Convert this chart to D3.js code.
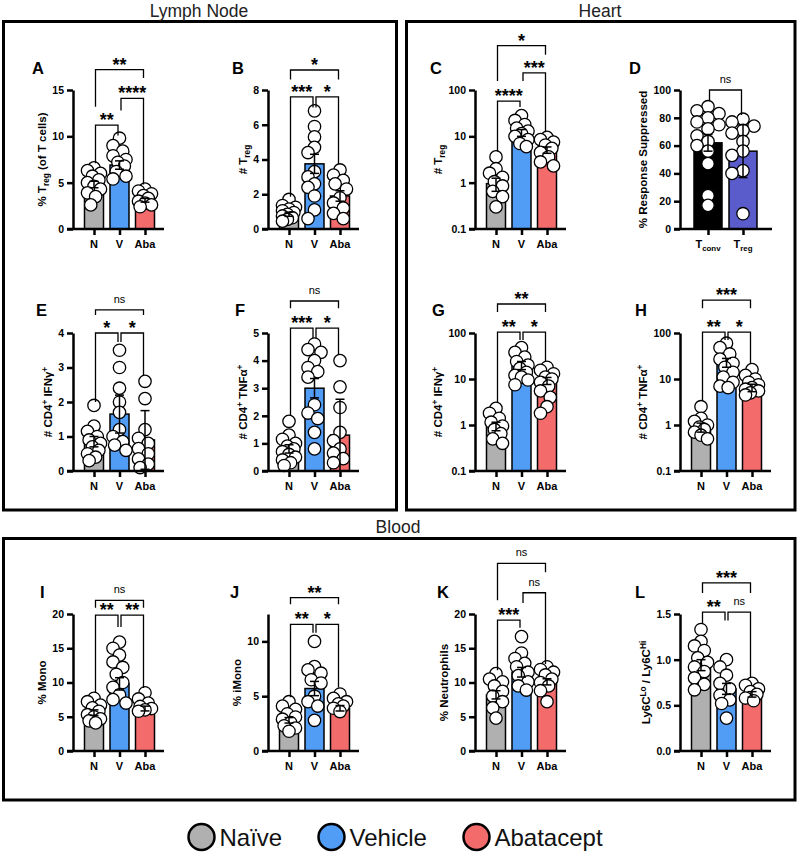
<!DOCTYPE html>
<html>
<head>
<meta charset="utf-8">
<script src="https://cdn.jsdelivr.net/npm/d3@7"></script>
<style>
  body { margin: 0; background: #fff; }
  svg { display: block; font-family: Arial, "Liberation Sans", Helvetica, sans-serif; }
</style>
</head>
<body>
<div id="chart"></div>
<script>
// ---- Data ----
const groups = ['N', 'V', 'Aba']
const groupNames = ['Naïve', 'Vehicle', 'Abatacept']
const groupColors = ['#b0b0b0', '#519cf5', '#f46b6c']

// brackets: [from, to, top, left leg end, right leg end, label]  (data units)
const aTicks = [0, 5, 10, 15]
const aMeans = [4.8, 6.9, 3.1]
const aErr = [0.35, 0.45, 0.2]
const aPts = [[6.6, 6.3, 6.0, 5.7, 5.3, 5.0, 4.6, 4.3, 3.9, 3.5, 2.6], [9.8, 9.0, 8.4, 7.9, 7.5, 7.2, 6.8, 6.2, 5.7, 5.4], [4.3, 4.1, 3.8, 3.6, 3.3, 3.0, 2.8, 2.6, 2.4]]
const aBr = [[0, 2, 17.2, 13.2, 16.3, '**'], [1, 2, 14.1, 12.8, 4.8, '****'], [0, 1, 11.2, 7.1, 10.1, '**']]

const bTicks = [0, 2, 4, 6, 8]
const bMeans = [0.85, 3.75, 1.9]
const bErr = [0.12, 0.55, 0.3]
const bPts = [[1.7, 1.35, 1.25, 1.15, 1.05, 0.95, 0.85, 0.75, 0.65, 0.55, 0.45], [6.8, 5.9, 5.3, 4.7, 4.4, 3.3, 3.0, 2.6, 2.4, 1.9, 1.1, 0.6], [3.4, 3.1, 2.8, 2.6, 2.3, 1.8, 1.5, 1.2, 0.9, 0.6]]
const bBr = [[0, 2, 9.15, 8.6, 8.6, '*'], [0, 1, 7.6, 1.85, 7.0, '***'], [1, 2, 7.6, 7.0, 3.75, '*']]

const logTicks = [0.1, 1, 10, 100]
const cMeans = [0.95, 12, 5.1]
const cErr = [0.3, 2, 0.8]
const cPts = [[3.6, 2.0, 1.6, 1.3, 1.05, 0.85, 0.65, 0.5, 0.3], [28, 22, 18, 15, 13, 11.5, 10, 8.5, 7, 6], [9.5, 8.5, 7.5, 6.5, 5.5, 4.5, 3.6, 2.8, 2.3]]
const cBr = [[0, 2, 905, 157, 575, '*'], [1, 2, 234, 157, 12.2, '***'], [0, 1, 57.5, 4.7, 42.7, '****']]

const dCats = ['Tconv', 'Treg']
const dColors = ['#000000', '#5a5ccc']
const dTicks = [0, 20, 40, 60, 80, 100]
const dMeans = [62, 56]
const dErr = [6, 19]
const dPts = [[88, 85, 83, 80, 77, 75, 72, 67, 63, 60, 56, 47, 24, 17], [79, 77, 74, 71, 69, 63, 56, 53, 42, 40, 11]]
const dBr = [[0, 1, 100, 92.8, 82, 'ns']]

const eTicks = [0, 1, 2, 3, 4]
const eMeans = [0.85, 1.65, 0.9]
const eErr = [0.15, 0.55, 0.85]
const ePts = [[1.9, 1.3, 1.15, 1.0, 0.9, 0.8, 0.7, 0.6, 0.5, 0.4, 0.3], [3.5, 3.0, 2.4, 2.0, 1.7, 1.2, 1.0, 0.85, 0.75, 0.6], [2.6, 2.1, 1.2, 0.95, 0.8, 0.65, 0.5, 0.35, 0.2, 0.1]]
const eBr = [[0, 2, 4.67, 4.52, 4.52, 'ns'], [0, 1, 4.0, 2.0, 3.74, '*'], [1, 2, 4.0, 3.74, 2.78, '*']]

const fTicks = [0, 1, 2, 3, 4, 5]
const fMeans = [0.8, 3.0, 1.3]
const fErr = [0.15, 0.35, 1.3]
const fPts = [[1.8, 1.3, 1.15, 1.0, 0.9, 0.8, 0.7, 0.6, 0.5, 0.4, 0.3, 0.2], [4.6, 4.4, 4.3, 4.0, 3.75, 3.6, 3.4, 2.4, 2.1, 1.9, 1.4, 0.8], [4.0, 3.05, 2.3, 1.4, 1.1, 0.8, 0.65, 0.45, 0.3]]
const fBr = [[0, 2, 6.16, 5.9, 5.9, 'ns'], [0, 1, 5.18, 2.0, 4.82, '***'], [1, 2, 5.18, 4.82, 4.2, '*']]

const gMeans = [0.95, 20, 9.2]
const gErr = [0.2, 4, 1.6]
const gPts = [[2.3, 1.8, 1.4, 1.15, 0.95, 0.8, 0.65, 0.5, 0.4], [48, 38, 30, 24, 20, 17, 14, 12, 11, 9.5, 7.5], [18, 15.5, 13, 11, 10, 8.5, 7, 5.5, 4, 2.5, 1.8]]
const gBr = [[0, 2, 427, 286, 286, '**'], [0, 1, 105, 3.0, 70.5, '**'], [1, 2, 105, 70.5, 23.5, '*']]

const hMeans = [0.9, 23, 6.5]
const hErr = [0.2, 5, 1.2]
const hPts = [[2.5, 1.4, 1.2, 1.0, 0.9, 0.8, 0.7, 0.6, 0.5], [60, 48, 35, 27, 22, 18, 14, 11, 8.5, 7, 6.5], [16, 12, 10, 8.5, 7.5, 6.5, 6, 5.5, 5, 4.5]]
const hBr = [[0, 2, 521, 347, 347, '***'], [0, 1, 105, 3.5, 70.5, '**'], [1, 2, 105, 70.5, 22, '*']]

const iTicks = [0, 5, 10, 15, 20]
const iMeans = [5.6, 9.8, 6.2]
const iErr = [0.4, 0.9, 0.35]
const iPts = [[7.7, 7.2, 6.7, 6.3, 5.8, 5.3, 5.0, 4.7, 4.4, 4.1], [15.9, 15.0, 14.0, 13.0, 12.2, 11.2, 10.0, 9.3, 8.2, 7.5, 7.0], [8.5, 7.6, 7.0, 6.5, 6.2, 6.0, 5.8]]
const iBr = [[0, 2, 22.0, 20.9, 20.9, 'ns'], [0, 1, 19.85, 8.5, 18.1, '**'], [1, 2, 19.85, 18.1, 9.2, '**']]

const jTicks = [0, 5, 10]
const jMeans = [2.8, 5.7, 3.9]
const jErr = [0.25, 0.65, 0.25]
const jPts = [[4.5, 4.1, 3.8, 3.4, 3.1, 2.9, 2.6, 2.3, 2.1, 1.8], [10.0, 7.7, 7.4, 7.1, 6.5, 6.2, 5.0, 4.5, 4.1, 2.8], [5.2, 4.8, 4.5, 4.3, 4.1, 3.9, 3.6]]
const jBr = [[0, 2, 14.0, 13.4, 13.4, '**'], [0, 1, 11.56, 4.9, 10.8, '**'], [1, 2, 11.56, 10.8, 5.8, '*']]

const kTicks = [0, 5, 10, 15, 20]
const kMeans = [8.2, 11.5, 10.1]
const kErr = [0.6, 0.7, 0.45]
const kPts = [[11.3, 10.5, 10.1, 9.5, 8.7, 8.0, 7.2, 6.3, 4.8], [16.7, 14.3, 13.5, 12.8, 12.3, 11.5, 11.0, 10.1, 9.5, 8.9], [12.3, 11.9, 11.5, 11.1, 10.5, 10.0, 9.5, 8.8, 7.2]]
const kBr = [[0, 2, 27.4, 22.0, 26.1, 'ns'], [1, 2, 23.1, 21.6, 12.7, 'ns'], [0, 1, 19.1, 11.8, 18.0, '***']]

const lTicks = [0, 0.5, 1.0, 1.5]
const lMeans = [0.94, 0.68, 0.62]
const lErr = [0.06, 0.06, 0.03]
const lPts = [[1.33, 1.2, 1.15, 1.1, 1.02, 0.97, 0.92, 0.87, 0.8, 0.73, 0.67], [1.0, 0.92, 0.83, 0.74, 0.68, 0.61, 0.56, 0.52, 0.36], [0.74, 0.72, 0.68, 0.65, 0.62, 0.58, 0.55]]
const lBr = [[0, 2, 1.84, 1.73, 1.73, '***'], [0, 1, 1.52, 1.40, 1.43, '**'], [1, 2, 1.52, 1.43, 0.8, 'ns']]

// ---- Layout ----
const colX = [73, 268, 475, 680]            // y-axis position per column
const rowY = [[229, 90], [471, 333], [751, 614]]
const letterY = [74, 316, 598]

const sections = [
  { x: 3.5, y: 21.5, w: 393, h: 488.5, title: 'Lymph Node', tx: 199, ty: 17 },
  { x: 406.5, y: 21.5, w: 388.5, h: 488.5, title: 'Heart', tx: 600, ty: 17 },
  { x: 3.5, y: 538.5, w: 791.5, h: 261.5, title: 'Blood', tx: 398, ty: 533 }
]

const lblTreg = [['% T'], ['reg', 'sub'], [' (of T cells)']]
const lblNTreg = [['# T'], ['reg', 'sub']]
const lblIfn = [['# CD4'], ['+', 'sup'], [' IFNγ'], ['+', 'sup']]
const lblTnf = [['# CD4'], ['+', 'sup'], [' TNFα'], ['+', 'sup']]

const panels = [
  { id: 'A', row: 0, col: 0, lx: 32, domain: [0, 15], ticks: aTicks, means: aMeans, err: aErr, pts: aPts, br: aBr, label: lblTreg },
  { id: 'B', row: 0, col: 1, lx: 232, domain: [0, 8], ticks: bTicks, means: bMeans, err: bErr, pts: bPts, br: bBr, label: lblNTreg },
  { id: 'C', row: 0, col: 2, lx: 430, log: true, domain: [0.1, 100], ticks: logTicks, means: cMeans, err: cErr, pts: cPts, br: cBr, label: lblNTreg },
  { id: 'D', row: 0, col: 3, lx: 629, wide: true, domain: [0, 100], ticks: dTicks, means: dMeans, err: dErr, pts: dPts, br: dBr, label: [['% Response Suppressed']] },
  { id: 'E', row: 1, col: 0, lx: 36, domain: [0, 4], ticks: eTicks, means: eMeans, err: eErr, pts: ePts, br: eBr, label: lblIfn },
  { id: 'F', row: 1, col: 1, lx: 235, domain: [0, 5], ticks: fTicks, means: fMeans, err: fErr, pts: fPts, br: fBr, label: lblTnf },
  { id: 'G', row: 1, col: 2, lx: 432, log: true, domain: [0.1, 100], ticks: logTicks, means: gMeans, err: gErr, pts: gPts, br: gBr, label: lblIfn },
  { id: 'H', row: 1, col: 3, lx: 635, log: true, domain: [0.1, 100], ticks: logTicks, means: hMeans, err: hErr, pts: hPts, br: hBr, label: lblTnf },
  { id: 'I', row: 2, col: 0, lx: 40, domain: [0, 20], ticks: iTicks, means: iMeans, err: iErr, pts: iPts, br: iBr, label: [['% Mono']] },
  { id: 'J', row: 2, col: 1, lx: 230, domain: [0, 12.5], ticks: jTicks, means: jMeans, err: jErr, pts: jPts, br: jBr, label: [['% iMono']] },
  { id: 'K', row: 2, col: 2, lx: 437, domain: [0, 20], ticks: kTicks, means: kMeans, err: kErr, pts: kPts, br: kBr, label: [['% Neutrophils']] },
  { id: 'L', row: 2, col: 3, lx: 635, domain: [0, 1.5], ticks: lTicks, fmt: '.1f', means: lMeans, err: lErr, pts: lPts, br: lBr, label: [['Ly6C'], ['Lo', 'sup'], [' / Ly6C'], ['Hi', 'sup']] }
]

// ---- Draw ----
const svg = d3.select('#chart').append('svg')
  .attr('width', 800).attr('height', 854)

// section frames + titles
sections.forEach(s => {
  svg.append('rect').attr('x', s.x).attr('y', s.y).attr('width', s.w).attr('height', s.h)
    .attr('fill', 'none').attr('stroke', '#000').attr('stroke-width', 3)
  svg.append('text').attr('x', s.tx).attr('y', s.ty).attr('text-anchor', 'middle')
    .attr('font-size', 17.5).attr('fill', '#222').text(s.title)
})

// rich text with sub/superscripts
function rich(text, segs) {
  let shift = 0
  segs.forEach(([t, k]) => {
    const want = k === 'sub' ? 3 : k === 'sup' ? -4 : 0
    const ts = text.append('tspan').text(t).attr('dy', want - shift)
    if (k) ts.attr('font-size', '0.72em')
    shift = want
  })
}

// simple deterministic dodge so the dots stay roughly inside the bar
function swarm(vals, y, r, spread) {
  const placed = []
  const offs = [0, -0.5, 0.5, -1, 1, -0.25, 0.25, -0.75, 0.75].map(k => k * spread)
  vals.slice().sort((a, b) => b - a).forEach(v => {
    const py = y(v)
    let best = 0, bestD = -1
    for (const o of offs) {
      let d = Infinity
      placed.forEach(p => { d = Math.min(d, Math.hypot(p.x - o, p.y - py)) })
      if (d >= 1.5 * r) { best = o; break }
      if (d > bestD) { bestD = d; best = o }
    }
    placed.push({ x: best, y: py })
  })
  return placed
}

function drawPanel(p) {
  const ax = colX[p.col]
  const [y0, y1] = rowY[p.row]
  const y = (p.log ? d3.scaleLog() : d3.scaleLinear()).domain(p.domain).range([y0, y1])
  const cats = p.wide ? dCats : groups
  const colors = p.wide ? dColors : groupColors
  const x = d3.scalePoint().domain(cats).range(p.wide ? [ax + 28, ax + 63] : [ax + 21, ax + 72])
  const bw = p.wide ? 28 : 19
  const base = p.domain[0]
  const g = svg.append('g')

  // bars
  g.selectAll('rect.bar').data(p.means).join('rect')
    .attr('x', (d, i) => x(cats[i]) - bw / 2)
    .attr('y', d => y(d))
    .attr('width', bw)
    .attr('height', d => y(base) - y(d))
    .attr('fill', (d, i) => colors[i])
    .attr('stroke', '#000').attr('stroke-width', 1.5)

  // dots
  p.pts.forEach((vals, i) => {
    const pos = swarm(vals, y, 6.2, p.wide ? 11 : 6.5)
    g.selectAll(null).data(pos).join('circle')
      .attr('cx', d => x(cats[i]) + d.x)
      .attr('cy', d => d.y)
      .attr('r', 6.2)
      .attr('fill', '#fff').attr('stroke', '#000').attr('stroke-width', 1.3)
  })

  // error bars
  p.means.forEach((m, i) => {
    const cx = x(cats[i])
    const lo = Math.max(base, m - p.err[i]), hi = m + p.err[i]
    const eg = g.append('g').attr('stroke', '#000').attr('stroke-width', 1.5)
    eg.append('line').attr('x1', cx).attr('x2', cx).attr('y1', y(lo)).attr('y2', y(hi))
    eg.append('line').attr('x1', cx - 4.5).attr('x2', cx + 4.5).attr('y1', y(hi)).attr('y2', y(hi))
    eg.append('line').attr('x1', cx - 4.5).attr('x2', cx + 4.5).attr('y1', y(lo)).attr('y2', y(lo))
  })

  // y axis
  const fmt = p.log ? d3.format('~g') : (p.fmt ? d3.format(p.fmt) : d3.format('~g'))
  const yAxis = g.append('g').attr('transform', `translate(${ax},0)`)
    .call(d3.axisLeft(y).tickValues(p.ticks).tickSize(6).tickSizeOuter(0).tickPadding(3).tickFormat(fmt))
  yAxis.select('.domain').attr('stroke-width', 2.5)
  yAxis.selectAll('.tick line').attr('stroke-width', 2.5)
  yAxis.selectAll('.tick text').attr('font-size', 10.5).attr('font-weight', 'bold')
    .attr('font-family', 'Arial, "Liberation Sans", sans-serif')
  let maxW = 0
  yAxis.selectAll('.tick text').each(function () { maxW = Math.max(maxW, this.getComputedTextLength()) })

  // x axis
  const xAxis = g.append('g').attr('transform', `translate(0,${y0})`)
    .call(d3.axisBottom(x).tickSize(6).tickSizeOuter(0).tickPadding(5).tickFormat(() => ''))
  xAxis.select('.domain').remove()
  xAxis.selectAll('.tick line').attr('stroke-width', 2.5)
  g.append('line').attr('x1', ax - 6).attr('x2', ax + (p.wide ? 92 : 91))
    .attr('y1', y0).attr('y2', y0).attr('stroke', '#000').attr('stroke-width', 2.5)
  cats.forEach((c, i) => {
    const t = g.append('text').attr('x', x(c)).attr('y', y0 + 19)
      .attr('text-anchor', 'middle').attr('font-size', 11).attr('font-weight', 'bold')
    if (p.wide) rich(t, [['T'], [c.slice(1), 'sub']])
    else t.text(c)
  })

  // y label
  const lbl = g.append('text')
    .attr('transform', `translate(${ax - 9 - maxW - 6},${(y0 + y1) / 2}) rotate(-90)`)
    .attr('text-anchor', 'middle').attr('font-size', 11.5).attr('font-weight', 'bold')
  rich(lbl, p.label)

  // panel letter
  g.append('text').attr('x', p.lx).attr('y', letterY[p.row])
    .attr('font-size', 16.5).attr('font-weight', 'bold').text(p.id)

  // significance brackets
  p.br.forEach(([a, b, top, ea, eb, txt]) => {
    const xa = x(cats[a]) + 1.5, xb = x(cats[b]) - 1.5
    g.append('path')
      .attr('d', `M${xa},${y(ea)}V${y(top)}H${xb}V${y(eb)}`)
      .attr('fill', 'none').attr('stroke', '#000').attr('stroke-width', 1.3)
    const ns = txt === 'ns'
    g.append('text').attr('x', (xa + xb) / 2).attr('y', y(top) + (ns ? -7 : 1))
      .attr('text-anchor', 'middle')
      .attr('font-size', ns ? 11 : 18).attr('font-weight', ns ? 'normal' : 'bold')
      .text(txt)
  })
}

panels.forEach(drawPanel)

// legend
const legendX = [201.5, 331.5, 476.5]
groupNames.forEach((n, i) => {
  svg.append('circle').attr('cx', legendX[i]).attr('cy', 837).attr('r', 13)
    .attr('fill', groupColors[i]).attr('stroke', '#000').attr('stroke-width', 2.5)
  svg.append('text').attr('x', legendX[i] + 18).attr('y', 846)
    .attr('font-size', 24).attr('fill', '#111').text(n)
})
</script>
</body>
</html>
